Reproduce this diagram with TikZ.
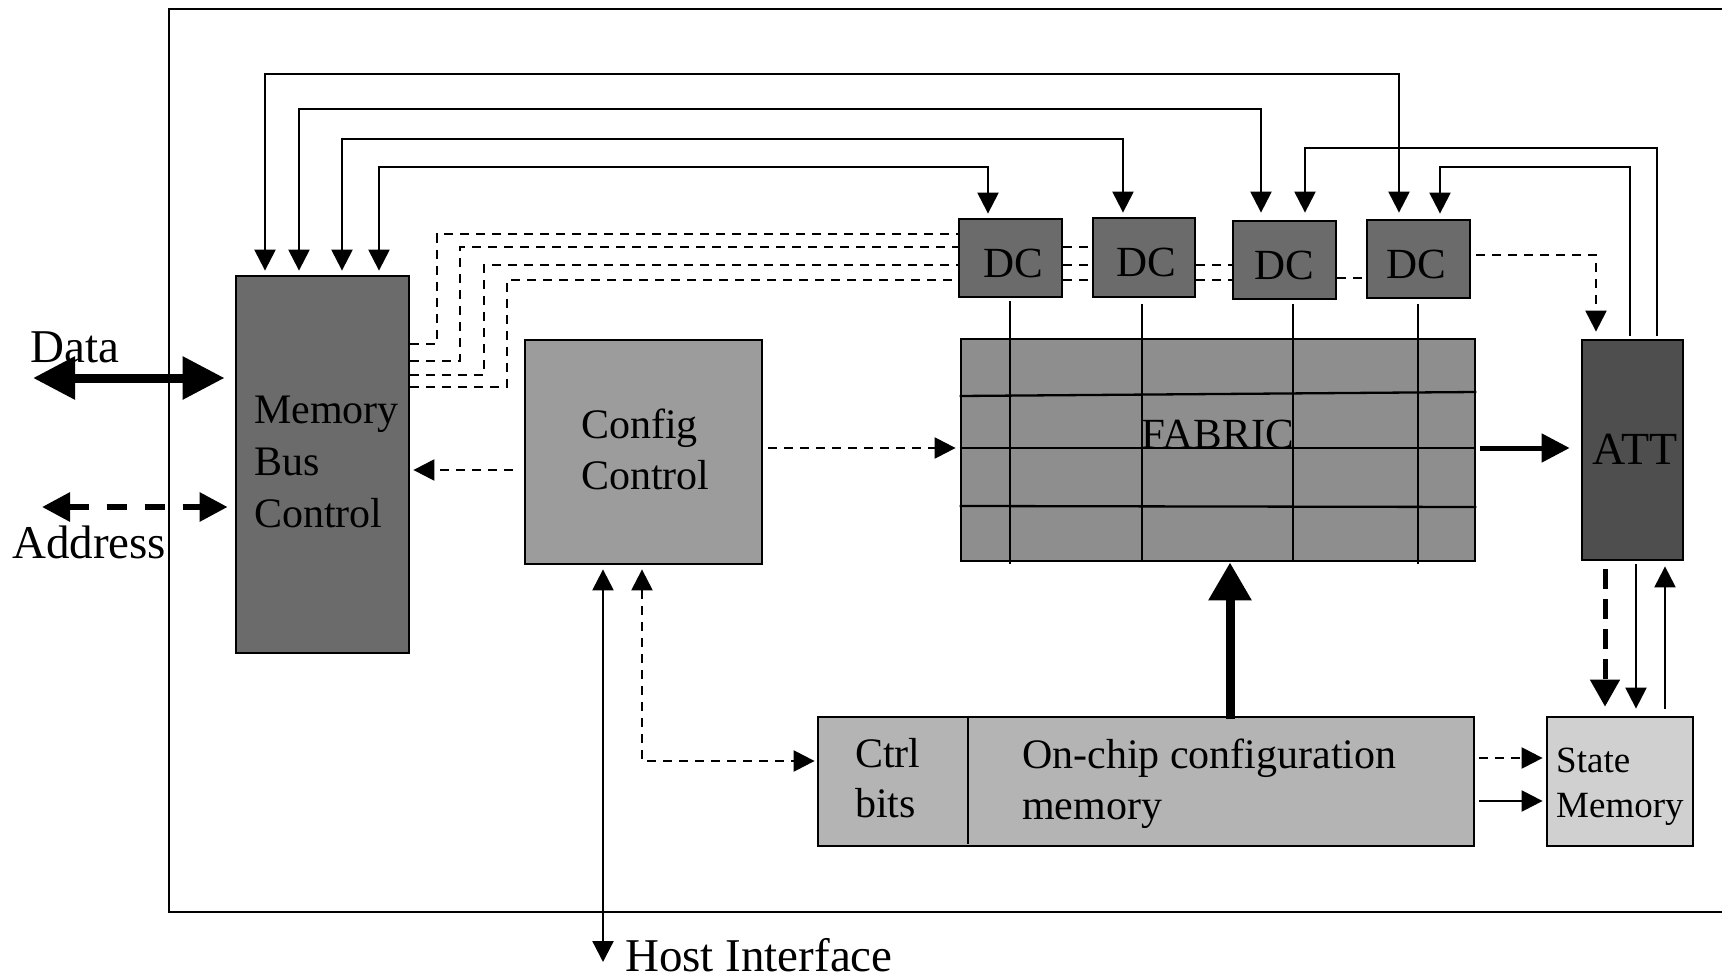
\documentclass[tikz,border=0pt]{standalone}
\usepackage{fontspec}
\setmainfont{Liberation Serif}
\usetikzlibrary{arrows.meta,calc}
\definecolor{gMBC}{gray}{0.42}
\definecolor{gCC}{gray}{0.61}
\definecolor{gFAB}{gray}{0.557}
\definecolor{gATT}{gray}{0.306}
\definecolor{gCM}{gray}{0.706}
\definecolor{gSM}{gray}{0.816}
\tikzset{
  box/.style={draw, line width=2.8pt, inner sep=0pt, rectangle},
  ln/.style={line width=2.3pt},
  dsh/.style={line width=2.3pt, dash pattern=on 9pt off 7pt},
  tip/.style={-{Triangle[length=21pt,width=21pt]}},
  tips/.style={{Triangle[length=21pt,width=21pt]}-{Triangle[length=21pt,width=21pt]}},
  txt/.style={inner sep=0pt, anchor=base west, font=\fontsize{42}{50}\selectfont},
  dctxt/.style={inner sep=0pt, anchor=base, font=\fontsize{43}{50}\selectfont},
  bigtxt/.style={inner sep=0pt, anchor=base west, font=\fontsize{47}{56}\selectfont},
}
\begin{document}
\begin{tikzpicture}[x=1pt,y=-1pt]
\useasboundingbox (0,0) rectangle (1722,979);
% outer frame
\draw[line width=2.6pt] (1722,9) -- (169,9) -- (169,912) -- (1722,912);

% boxes
\node[box, fill=gMBC, minimum width=173pt, minimum height=377pt] (mbc) at (322.5,464.5) {};
\node[box, fill=gCC, minimum width=237pt, minimum height=224pt] (cc) at (643.5,452) {};
\node[box, fill=gMBC, minimum width=103pt, minimum height=78pt] (dc1) at (1010.5,258) {};
\node[box, fill=gMBC, minimum width=102pt, minimum height=79pt] (dc2) at (1144,257.5) {};
\node[box, fill=gMBC, minimum width=103pt, minimum height=78pt] (dc3) at (1284.5,260) {};
\node[box, fill=gMBC, minimum width=103pt, minimum height=78pt] (dc4) at (1418.5,259) {};
\node[box, fill=gFAB, minimum width=514pt, minimum height=222pt] (fabric) at (1218,450) {};
\node[box, fill=gATT, minimum width=101pt, minimum height=220pt] (att) at (1632.5,450) {};
\node[box, fill=gCM, minimum width=656pt, minimum height=129pt] (cmem) at (1146,781.5) {};
\node[box, fill=gSM, minimum width=146pt, minimum height=129pt] (smem) at (1620,781.5) {};

% fabric grid
\draw[ln] (fabric.west |- 0,396) -- (fabric.east |- 0,392);
\draw[ln] (fabric.west |- 0,448) -- (fabric.east |- 0,448);
\draw[ln] (fabric.west |- 0,506) -- (fabric.east |- 0,507);
\draw[ln] ($(1010,0 |- dc1.south)+(0,3)$) -- ($(1010,0 |- fabric.south)+(0,2)$);
\draw[ln] ($(1142,0 |- dc2.south)+(0,6)$) -- (1142,0 |- fabric.south);
\draw[ln] ($(1293,0 |- dc3.south)+(0,4)$) -- (1293,0 |- fabric.south);
\draw[ln] ($(1418,0 |- dc4.south)+(0,5)$) -- ($(1418,0 |- fabric.south)+(0,2)$);

% cmem divider
\draw[ln] (968,0 |- cmem.north) -- ($(968,0 |- cmem.south)+(0,-3)$);

% texts
\node[txt] (t1) at (254,423) {Memory};
\node[txt] (t2) at (254,475) {Bus};
\node[txt] (t3) at (254,527) {Control};
\node[txt] (t4) at (581,438) {Config};
\node[txt] (t5) at (581,489) {Control};
\node[dctxt] (d1) at (1013,277) {DC};
\node[dctxt] (d2) at (1146,276) {DC};
\node[dctxt] (d3) at (1284.5,279) {DC};
\node[dctxt] (d4) at (1416,278) {DC};
\node[inner sep=0pt, anchor=base, font=\fontsize{43}{50}\selectfont] (fabt) at (1218,448) {FABRIC};
\node[inner sep=0pt, anchor=base, font=\fontsize{46}{54}\selectfont] (attt) at (1635,464) {ATT};
\node[txt] (t6) at (855,767) {Ctrl};
\node[txt] (t7) at (855,817) {bits};
\node[txt] (t8) at (1022,768) {On-chip configuration};
\node[txt] (t9) at (1022,819) {memory};
\node[inner sep=0pt, anchor=base west, font=\fontsize{37}{44}\selectfont] (t10) at (1556,772) {State};
\node[inner sep=0pt, anchor=base west, font=\fontsize{37}{44}\selectfont] (t11) at (1556,817) {Memory};
\node[bigtxt] (datat) at (30,362) {Data};
\node[bigtxt] (addrt) at (12,558) {Address};
\node[bigtxt] (hostt) at (625,971) {Host Interface};

% MBC <-> DC buses
\draw[ln,tips] ($(265,0 |- mbc.north)+(0,-4)$) |- (1399,74) -- ($(1399,0 |- dc4.north)+(0,-6)$);
\draw[ln,tips] ($(299,0 |- mbc.north)+(0,-4)$) |- (1261,109) -- ($(1261,0 |- dc3.north)+(0,-7)$);
\draw[ln,tips] ($(342,0 |- mbc.north)+(0,-4)$) |- (1123,139) -- ($(1123,0 |- dc2.north)+(0,-4)$);
\draw[ln,tips] ($(379,0 |- mbc.north)+(0,-4)$) |- (988,167) -- ($(988,0 |- dc1.north)+(0,-4)$);

% ATT -> DC
\draw[ln,tip] ($(1630,0 |- att.north)+(0,-3)$) |- (1440,167) -- ($(1440,0 |- dc4.north)+(0,-5)$);
\draw[ln,tip] ($(1657,0 |- att.north)+(0,-3)$) |- (1305,148) -- ($(1305,0 |- dc3.north)+(0,-7)$);

% dashed bus MBC -> DCs
\draw[dsh] (mbc.east |- 0,344) -- (437,344) -- (437,234) -- (dc1.west |- 0,234);
\draw[dsh] (mbc.east |- 0,361) -- (460,361) -- (460,247) -- (dc1.west |- 0,247);
\draw[dsh] (mbc.east |- 0,375) -- (484,375) -- (484,265) -- (dc1.west |- 0,265);
\draw[dsh] (mbc.east |- 0,387) -- (507,387) -- (507,280) -- (dc1.west |- 0,280);
\draw[dsh] (dc1.east |- 0,247) -- (dc2.west |- 0,247);
\draw[dsh] (dc1.east |- 0,265) -- (dc2.west |- 0,265);
\draw[dsh] (dc1.east |- 0,280) -- (dc2.west |- 0,280);
\draw[dsh] (dc2.east |- 0,265) -- (dc3.west |- 0,265);
\draw[dsh] (dc2.east |- 0,280) -- (dc3.west |- 0,280);
\draw[dsh] (dc3.east |- 0,278) -- (dc4.west |- 0,278);
\draw[dsh,tip] ($(dc4.east |- 0,255)+(5,0)$) -| ($(1596,0 |- att.north)+(0,-7)$);

% Config connections
\draw[dsh,tip] ($(cc.east |- 0,448)+(5,0)$) -- ($(fabric.west |- 0,448)+(-4,0)$);
\draw[dsh,tip] ($(cc.west |- 0,470)+(-11,0)$) -- ($(mbc.east |- 0,470)+(3,0)$);
\draw[dsh,tips] ($(642,0 |- cc.south)+(0,4)$) |- ($(cmem.west |- 0,761)+(-2,0)$);
\coordinate (host) at (603,962);
\draw[ln,tips] ($(603,0 |- cc.south)+(0,4)$) -- (host);

% fabric -> ATT
\draw[line width=5pt, -{Triangle[length=28pt,width=28pt]}] ($(fabric.east |- 0,448)+(4,0)$) -- ($(att.west |- 0,448)+(-11,0)$);
% cmem -> fabric
\draw[line width=9pt, -{Triangle[length=38pt,width=41pt]}] ($(1230,0 |- cmem.north)+(0,3)$) -- (1230,0 |- fabric.south);

% cmem -> smem
\draw[dsh,tip] ($(cmem.east |- 0,758)+(4,0)$) -- ($(smem.west |- 0,758)+(-3,0)$);
\draw[ln,tip] ($(cmem.east |- 0,801)+(4,0)$) -- ($(smem.west |- 0,801)+(-3,0)$);

% ATT <-> smem
\draw[line width=5pt, dash pattern=on 20pt off 10pt, -{Triangle[length=27pt,width=29pt]}] ($(1605,0 |- att.south)+(0,8)$) -- ($(1605,0 |- smem.north)+(0,-9)$);
\draw[ln,tip] ($(1636,0 |- att.south)+(0,3)$) -- ($(1636,0 |- smem.north)+(0,-7)$);
\draw[ln,tip] ($(1665,0 |- smem.north)+(0,-7)$) -- ($(1665,0 |- att.south)+(0,5)$);

% Data / Address
\coordinate (dataL) at (33,378);
\draw[line width=9pt, {Triangle[length=42pt,width=41pt]}-{Triangle[length=42pt,width=41pt]}] (dataL) -- ($(mbc.west |- dataL)+(-10,0)$);
\coordinate (addrL) at (42,507);
\draw[line width=6pt, dash pattern=on 20pt off 18pt, {Triangle[length=28pt,width=28pt]}-{Triangle[length=28pt,width=28pt]}] (addrL) -- ($(mbc.west |- addrL)+(-7,0)$);
\end{tikzpicture}
\end{document}
